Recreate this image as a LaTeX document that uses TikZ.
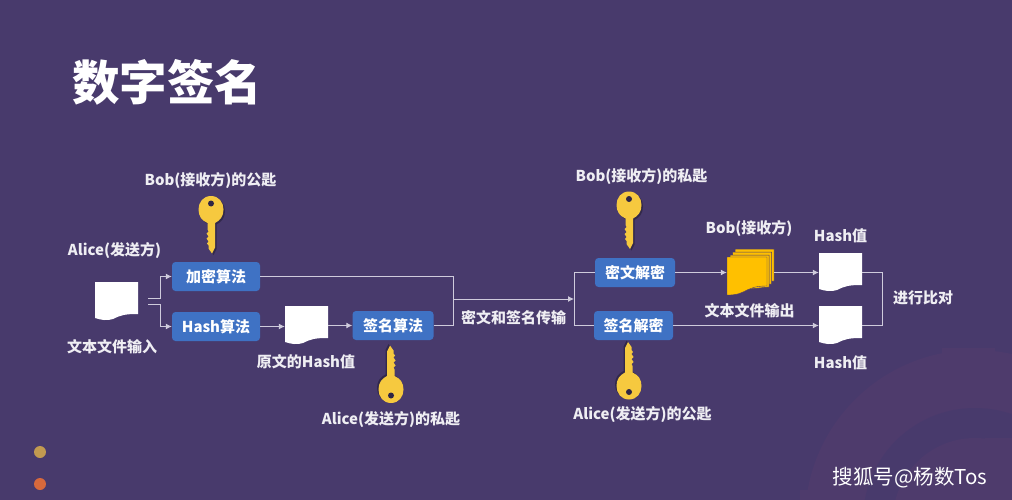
\documentclass[tikz,border=0pt]{standalone}
\usepackage{fontspec}
\setmainfont{Noto Sans CJK SC}
\usetikzlibrary{arrows.meta,calc}
\definecolor{bgc}{HTML}{483A6C}
\definecolor{gearc}{HTML}{4E3B6C}
\definecolor{boxc}{HTML}{3F72C4}
\definecolor{keyc}{HTML}{F6C93F}
\definecolor{filec}{HTML}{FFC000}
\definecolor{txtc}{HTML}{EFEEF3}
\definecolor{linec}{HTML}{CFCBDC}
\definecolor{holec}{HTML}{2E2545}
\definecolor{dota}{HTML}{C29A50}
\definecolor{dotb}{HTML}{D8693C}
\tikzset{
  boxn/.style={fill=boxc,rounded corners=3.5pt,text=white,font=\bfseries\fontsize{15}{15}\selectfont,minimum width=#1,minimum height=29pt,inner sep=0pt},
  lab/.style={text=txtc,font=\bfseries\fontsize{15}{15}\selectfont,inner sep=0pt},
  ln/.style={draw=linec,line width=1pt},
  arr/.style={ln,-{Latex[length=6pt,width=6pt]}},
  docn/.style={minimum width=43pt,minimum height=39pt,inner sep=0pt}
}
\newcommand{\docbody}{(0,0) -- (43,0) -- (43,32) .. controls (30,32) and (26,33) .. (18,37) .. controls (12,39) and (6,38) .. (0,36) -- cycle}
\newcommand{\keybody}{(0,-14.5) .. controls (8,-14.5) and (12.5,-8) .. (12.5,-1) .. controls (12.5,6) and (9,10) .. (4,12.5) -- (4,37) -- (1,43) -- (-2.5,38) -- (-2.5,35) -- (-4,33) -- (-2.5,31) -- (-4.5,28) -- (-2.5,26) -- (-4.5,23) -- (-2.5,21) -- (-3.5,19) -- (-3.5,12.5) .. controls (-9,10) and (-12.5,6) .. (-12.5,-1) .. controls (-12.5,-8) and (-8,-14.5) .. (0,-14.5) -- cycle}
\newcommand{\keyat}[4]{% name, x, y, rotation
  \begin{scope}[shift={(#2,#3)},rotate=#4]
    \fill[black,opacity=.3,shift={(1.5,1.5)}] \keybody;
    \fill[keyc] \keybody;
    \fill[holec] (0,-7) circle (3);
    \coordinate (#1) at (0,0);
  \end{scope}}
\begin{document}
\begin{tikzpicture}[x=1pt,y=-1pt]
\useasboundingbox (0,0) rectangle (1012,500);
\fill[bgc] (0,0) rectangle (1012,500);
% faint gear in the background
\begin{scope}
  \clip (0,0) rectangle (1012,500);
  \fill[gearc] (975,520) circle (170);
  \fill[gearc] (942,348) rectangle (995,375);
  \fill[gearc] (800,490) rectangle (860,500);
  \fill[bgc] (975,520) circle (112);
  \fill[gearc] (975,520) circle (82);
  \fill[gearc] (985,438) rectangle (1012,460);
\end{scope}
% dots
\fill[dota] (40,452) circle (6);
\fill[dotb] (40,484) circle (6);
% title
\node[text=white,font=\bfseries\fontsize{47.5}{47.5}\selectfont,inner sep=0pt] (title) at (167,82) {数字签名};
% boxes
\node[boxn=88pt] (enc) at (216,276.5) {加密算法};
\node[boxn=88pt] (hash) at (216,326.5) {Hash算法};
\node[boxn=81pt] (sign) at (393,325.5) {签名算法};
\node[boxn=80pt] (dec) at (635,272.5) {密文解密};
\node[boxn=79pt] (ver) at (633.5,325.5) {签名解密};
% documents
\foreach \nm/\px/\py in {d1/95/282,d2/285/306,d3/819/253,d4/819/306}{
  \begin{scope}[shift={(\px,\py)}]
    \fill[white] \docbody;
    \node[docn] (\nm) at (21.5,19.5) {};
  \end{scope}}
% stacked yellow files
\begin{scope}[shift={(727,249)}]
  \foreach \ox/\oy in {8/0,5.5/3,3/6}{
    \begin{scope}[shift={(\ox,\oy)}]
      \fill[filec,draw=bgc,line width=.5pt] (0,0) -- (39,0) -- (39,32) -- (0,36) -- cycle;
    \end{scope}}
  \begin{scope}[shift={(0,8)}]
    \fill[filec,draw=bgc,line width=.4pt] (0,0) -- (40,0) -- (40,29) .. controls (28,29) and (24,31) .. (16,35) .. controls (10,38) and (5,38) .. (0,38) -- cycle;
  \end{scope}
  \node[minimum width=47pt,minimum height=46pt,inner sep=0pt] (files) at (23.5,23) {};
\end{scope}
% keys
\keyat{k1}{211}{210.5}{0}
\keyat{k2}{391}{388.5}{180}
\keyat{k3}{629}{206}{0}
\keyat{k4}{629}{385}{180}
% connector junctions
\coordinate (j1) at (148,298);
\coordinate (j2) at (148,304);
\coordinate (b1) at (160,276.5);
\coordinate (b2) at (160,326.5);
\coordinate (m1) at (453,299);
\coordinate (m2) at (453,325.5);
\coordinate (m3) at (574,299);
\coordinate (m4) at (574,325.5);
\coordinate (m5) at (574,272.5);
\coordinate (c1) at (882,272.5);
\coordinate (c2) at (882,325.5);
% connectors
\draw[ln] (j1) -| (b1);
\draw[arr] (b1) -- (enc.west);
\draw[ln] (j2) -| (b2);
\draw[arr] (b2) -- (hash.west);
\draw[arr] (hash.east) -- (hash.east -| d2.west);
\draw[arr] (d2.east |- sign.west) -- (sign.west);
\draw[ln] (enc.east) -| (m2) -- (sign.east);
\draw[arr] (m1) -- (m3);
\draw[ln] (dec.west) -- (m5) -- (m4) -- (ver.west);
\draw[arr] (dec.east) -- (dec.east -| files.west);
\draw[arr] (files.east |- dec.east) -- (dec.east -| d3.west);
\draw[arr] (ver.east) -- (ver.east -| d4.west);
\draw[ln] (d3.east |- c1) -- (c1) -- (c2) -- (d4.east |- c2);
% labels
\node[lab] (l1) at (210.5,180) {Bob(接收方)的公匙};
\node[lab] (l2) at (114.5,250) {Alice(发送方)};
\node[lab] (l3) at (112,347) {文本文件输入};
\node[lab] (l4) at (306,362) {原文的Hash值};
\node[lab] (l5) at (391,419) {Alice(发送方)的私匙};
\node[lab] (l6) at (513.5,318) {密文和签名传输};
\node[lab] (l7) at (641.5,176) {Bob(接收方)的私匙};
\node[lab] (l8) at (749,228) {Bob(接收方)};
\node[lab] (l9) at (840.5,236) {Hash值};
\node[lab] (l10) at (749.5,311) {文本文件输出};
\node[lab] (l11) at (840.5,363) {Hash值};
\node[lab] (l12) at (923,298) {进行比对};
\node[lab] (l13) at (642.5,414) {Alice(发送方)的公匙};
\node[text=white,font=\fontsize{20.5}{20.5}\selectfont,inner sep=0pt] (wm) at (910,478) {搜狐号@杨数Tos};
\end{tikzpicture}
\end{document}
